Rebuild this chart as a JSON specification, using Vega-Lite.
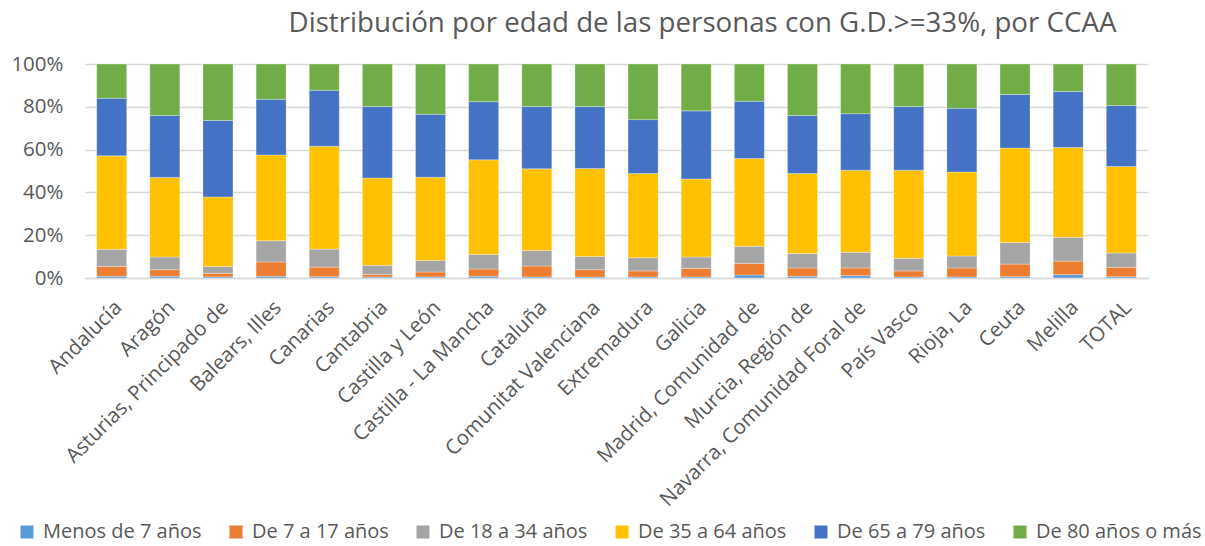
{
"$schema": "https://vega.github.io/schema/vega-lite/v6.json",
"width": 1063, "height": 214,
"autosize": "none",
"padding": {"left": 85, "top": 64, "right": 57, "bottom": 268},
"background": "white",
"config": {"font": "Open Sans", "view": {"stroke": null}},
"title": {"text": "Distribución por edad de las personas con G.D.>=33%, por CCAA", "fontSize": 27.7, "fontWeight": "normal", "color": "#595959", "anchor": "middle", "dx": 86, "offset": 16},
"data": {"values": [
{"r":"Andalucía","g":"Menos de 7 años","k":1,"v":0.8},{"r":"Andalucía","g":"De 7 a 17 años","k":2,"v":4.6},{"r":"Andalucía","g":"De 18 a 34 años","k":3,"v":8.0},{"r":"Andalucía","g":"De 35 a 64 años","k":4,"v":43.7},{"r":"Andalucía","g":"De 65 a 79 años","k":5,"v":26.9},{"r":"Andalucía","g":"De 80 años o más","k":6,"v":16.0},
{"r":"Aragón","g":"Menos de 7 años","k":1,"v":0.8},{"r":"Aragón","g":"De 7 a 17 años","k":2,"v":3.1},{"r":"Aragón","g":"De 18 a 34 años","k":3,"v":5.9},{"r":"Aragón","g":"De 35 a 64 años","k":4,"v":37.2},{"r":"Aragón","g":"De 65 a 79 años","k":5,"v":28.9},{"r":"Aragón","g":"De 80 años o más","k":6,"v":24.1},
{"r":"Asturias, Principado de","g":"Menos de 7 años","k":1,"v":0.5},{"r":"Asturias, Principado de","g":"De 7 a 17 años","k":2,"v":1.7},{"r":"Asturias, Principado de","g":"De 18 a 34 años","k":3,"v":3.2},{"r":"Asturias, Principado de","g":"De 35 a 64 años","k":4,"v":32.5},{"r":"Asturias, Principado de","g":"De 65 a 79 años","k":5,"v":35.7},{"r":"Asturias, Principado de","g":"De 80 años o más","k":6,"v":26.4},
{"r":"Balears, Illes","g":"Menos de 7 años","k":1,"v":0.8},{"r":"Balears, Illes","g":"De 7 a 17 años","k":2,"v":6.7},{"r":"Balears, Illes","g":"De 18 a 34 años","k":3,"v":9.9},{"r":"Balears, Illes","g":"De 35 a 64 años","k":4,"v":40.1},{"r":"Balears, Illes","g":"De 65 a 79 años","k":5,"v":26.0},{"r":"Balears, Illes","g":"De 80 años o más","k":6,"v":16.5},
{"r":"Canarias","g":"Menos de 7 años","k":1,"v":0.6},{"r":"Canarias","g":"De 7 a 17 años","k":2,"v":4.5},{"r":"Canarias","g":"De 18 a 34 años","k":3,"v":8.4},{"r":"Canarias","g":"De 35 a 64 años","k":4,"v":48.1},{"r":"Canarias","g":"De 65 a 79 años","k":5,"v":26.1},{"r":"Canarias","g":"De 80 años o más","k":6,"v":12.3},
{"r":"Cantabria","g":"Menos de 7 años","k":1,"v":0.5},{"r":"Cantabria","g":"De 7 a 17 años","k":2,"v":1.2},{"r":"Cantabria","g":"De 18 a 34 años","k":3,"v":4.2},{"r":"Cantabria","g":"De 35 a 64 años","k":4,"v":40.8},{"r":"Cantabria","g":"De 65 a 79 años","k":5,"v":33.4},{"r":"Cantabria","g":"De 80 años o más","k":6,"v":19.9},
{"r":"Castilla y León","g":"Menos de 7 años","k":1,"v":0.5},{"r":"Castilla y León","g":"De 7 a 17 años","k":2,"v":2.3},{"r":"Castilla y León","g":"De 18 a 34 años","k":3,"v":5.4},{"r":"Castilla y León","g":"De 35 a 64 años","k":4,"v":38.9},{"r":"Castilla y León","g":"De 65 a 79 años","k":5,"v":29.4},{"r":"Castilla y León","g":"De 80 años o más","k":6,"v":23.5},
{"r":"Castilla - La Mancha","g":"Menos de 7 años","k":1,"v":0.8},{"r":"Castilla - La Mancha","g":"De 7 a 17 años","k":2,"v":3.4},{"r":"Castilla - La Mancha","g":"De 18 a 34 años","k":3,"v":6.8},{"r":"Castilla - La Mancha","g":"De 35 a 64 años","k":4,"v":44.2},{"r":"Castilla - La Mancha","g":"De 65 a 79 años","k":5,"v":27.2},{"r":"Castilla - La Mancha","g":"De 80 años o más","k":6,"v":17.6},
{"r":"Cataluña","g":"Menos de 7 años","k":1,"v":0.5},{"r":"Cataluña","g":"De 7 a 17 años","k":2,"v":5.1},{"r":"Cataluña","g":"De 18 a 34 años","k":3,"v":7.3},{"r":"Cataluña","g":"De 35 a 64 años","k":4,"v":38.1},{"r":"Cataluña","g":"De 65 a 79 años","k":5,"v":29.1},{"r":"Cataluña","g":"De 80 años o más","k":6,"v":19.9},
{"r":"Comunitat Valenciana","g":"Menos de 7 años","k":1,"v":0.5},{"r":"Comunitat Valenciana","g":"De 7 a 17 años","k":2,"v":3.4},{"r":"Comunitat Valenciana","g":"De 18 a 34 años","k":3,"v":6.2},{"r":"Comunitat Valenciana","g":"De 35 a 64 años","k":4,"v":41.1},{"r":"Comunitat Valenciana","g":"De 65 a 79 años","k":5,"v":28.9},{"r":"Comunitat Valenciana","g":"De 80 años o más","k":6,"v":19.9},
{"r":"Extremadura","g":"Menos de 7 años","k":1,"v":0.5},{"r":"Extremadura","g":"De 7 a 17 años","k":2,"v":2.8},{"r":"Extremadura","g":"De 18 a 34 años","k":3,"v":6.2},{"r":"Extremadura","g":"De 35 a 64 años","k":4,"v":39.3},{"r":"Extremadura","g":"De 65 a 79 años","k":5,"v":25.2},{"r":"Extremadura","g":"De 80 años o más","k":6,"v":26.0},
{"r":"Galicia","g":"Menos de 7 años","k":1,"v":0.5},{"r":"Galicia","g":"De 7 a 17 años","k":2,"v":4.0},{"r":"Galicia","g":"De 18 a 34 años","k":3,"v":5.3},{"r":"Galicia","g":"De 35 a 64 años","k":4,"v":36.5},{"r":"Galicia","g":"De 65 a 79 años","k":5,"v":31.8},{"r":"Galicia","g":"De 80 años o más","k":6,"v":21.9},
{"r":"Madrid, Comunidad de","g":"Menos de 7 años","k":1,"v":1.4},{"r":"Madrid, Comunidad de","g":"De 7 a 17 años","k":2,"v":5.4},{"r":"Madrid, Comunidad de","g":"De 18 a 34 años","k":3,"v":8.0},{"r":"Madrid, Comunidad de","g":"De 35 a 64 años","k":4,"v":41.0},{"r":"Madrid, Comunidad de","g":"De 65 a 79 años","k":5,"v":26.8},{"r":"Madrid, Comunidad de","g":"De 80 años o más","k":6,"v":17.4},
{"r":"Murcia, Región de","g":"Menos de 7 años","k":1,"v":0.8},{"r":"Murcia, Región de","g":"De 7 a 17 años","k":2,"v":3.9},{"r":"Murcia, Región de","g":"De 18 a 34 años","k":3,"v":6.7},{"r":"Murcia, Región de","g":"De 35 a 64 años","k":4,"v":37.4},{"r":"Murcia, Región de","g":"De 65 a 79 años","k":5,"v":27.1},{"r":"Murcia, Región de","g":"De 80 años o más","k":6,"v":24.1},
{"r":"Navarra, Comunidad Foral de","g":"Menos de 7 años","k":1,"v":1.1},{"r":"Navarra, Comunidad Foral de","g":"De 7 a 17 años","k":2,"v":3.6},{"r":"Navarra, Comunidad Foral de","g":"De 18 a 34 años","k":3,"v":7.3},{"r":"Navarra, Comunidad Foral de","g":"De 35 a 64 años","k":4,"v":38.4},{"r":"Navarra, Comunidad Foral de","g":"De 65 a 79 años","k":5,"v":26.4},{"r":"Navarra, Comunidad Foral de","g":"De 80 años o más","k":6,"v":23.2},
{"r":"País Vasco","g":"Menos de 7 años","k":1,"v":0.5},{"r":"País Vasco","g":"De 7 a 17 años","k":2,"v":2.8},{"r":"País Vasco","g":"De 18 a 34 años","k":3,"v":5.9},{"r":"País Vasco","g":"De 35 a 64 años","k":4,"v":41.2},{"r":"País Vasco","g":"De 65 a 79 años","k":5,"v":29.7},{"r":"País Vasco","g":"De 80 años o más","k":6,"v":19.9},
{"r":"Rioja, La","g":"Menos de 7 años","k":1,"v":0.5},{"r":"Rioja, La","g":"De 7 a 17 años","k":2,"v":4.2},{"r":"Rioja, La","g":"De 18 a 34 años","k":3,"v":5.6},{"r":"Rioja, La","g":"De 35 a 64 años","k":4,"v":39.2},{"r":"Rioja, La","g":"De 65 a 79 años","k":5,"v":29.8},{"r":"Rioja, La","g":"De 80 años o más","k":6,"v":20.7},
{"r":"Ceuta","g":"Menos de 7 años","k":1,"v":0.6},{"r":"Ceuta","g":"De 7 a 17 años","k":2,"v":5.9},{"r":"Ceuta","g":"De 18 a 34 años","k":3,"v":10.1},{"r":"Ceuta","g":"De 35 a 64 años","k":4,"v":44.1},{"r":"Ceuta","g":"De 65 a 79 años","k":5,"v":25.1},{"r":"Ceuta","g":"De 80 años o más","k":6,"v":14.2},
{"r":"Melilla","g":"Menos de 7 años","k":1,"v":1.6},{"r":"Melilla","g":"De 7 a 17 años","k":2,"v":6.3},{"r":"Melilla","g":"De 18 a 34 años","k":3,"v":11.1},{"r":"Melilla","g":"De 35 a 64 años","k":4,"v":42.0},{"r":"Melilla","g":"De 65 a 79 años","k":5,"v":26.2},{"r":"Melilla","g":"De 80 años o más","k":6,"v":12.8},
{"r":"TOTAL","g":"Menos de 7 años","k":1,"v":0.6},{"r":"TOTAL","g":"De 7 a 17 años","k":2,"v":4.4},{"r":"TOTAL","g":"De 18 a 34 años","k":3,"v":6.7},{"r":"TOTAL","g":"De 35 a 64 años","k":4,"v":40.4},{"r":"TOTAL","g":"De 65 a 79 años","k":5,"v":28.5},{"r":"TOTAL","g":"De 80 años o más","k":6,"v":19.4}
]},
"mark": {"type": "bar", "stroke": "white", "strokeWidth": 0.5, "strokeOpacity": 0.6},
"encoding": {
 "x": {"field": "r", "type": "nominal", "sort": null,
   "scale": {"paddingInner": 0.435, "paddingOuter": 0.22},
   "axis": {"title": null, "labelAngle": -45, "labelFontSize": 20.5, "labelColor": "#595959", "ticks": false, "domainColor": "#D9D9D9", "domainWidth": 1.5, "labelPadding": 19, "labelLimit": 0}},
 "y": {"field": "v", "type": "quantitative", "stack": "normalize",
   "scale": {"domain": [0, 1]},
   "axis": {"title": null, "format": ".0%", "values": [0, 0.2, 0.4, 0.6, 0.8, 1], "grid": true, "gridColor": "#D9D9D9", "gridWidth": 1.5, "domain": false, "ticks": false, "labelFontSize": 20.5, "labelColor": "#595959", "labelPadding": 22}},
 "color": {"field": "g", "type": "nominal",
   "scale": {"domain": ["Menos de 7 años", "De 7 a 17 años", "De 18 a 34 años", "De 35 a 64 años", "De 65 a 79 años", "De 80 años o más"],
     "range": ["#5B9BD5", "#ED7D31", "#A5A5A5", "#FFC000", "#4472C4", "#70AD47"]},
   "legend": {"title": null, "orient": "none", "direction": "horizontal", "columns": 6, "legendX": -68, "legendY": 458, "padding": 0, "symbolType": "square", "symbolSize": 169, "symbolStrokeWidth": 0, "labelFontSize": 20, "labelLimit": 0, "labelColor": "#595959", "columnPadding": 24, "labelOffset": 6}},
 "order": {"field": "k", "type": "quantitative"}
}
}
